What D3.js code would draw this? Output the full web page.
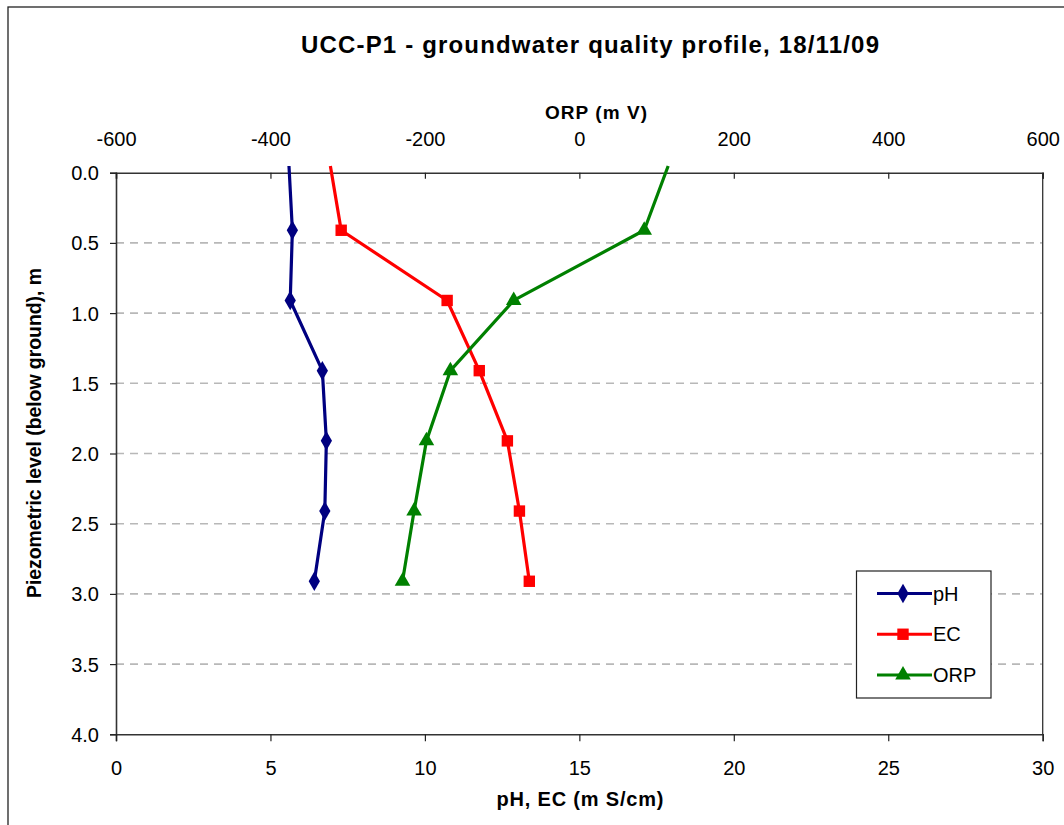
<!DOCTYPE html>
<html>
<head>
<meta charset="utf-8">
<script src="https://cdn.jsdelivr.net/npm/d3@7"></script>
<style>
  html, body { margin: 0; padding: 0; background: #fff; }
  svg { display: block; font-family: Arial, "Liberation Sans", sans-serif; }
</style>
</head>
<body>
<svg id="chart" width="1064" height="825"></svg>
<script>
// ---- data (depth in m below ground; first row is the top of the profile, above the axis start) ----
const depths = [-0.048, 0.41, 0.91, 1.41, 1.91, 2.41, 2.91];
const pHValues = [5.60, 5.71, 5.64, 6.68, 6.81, 6.76, 6.42];
const ecValues = [6.94, 7.29, 10.72, 11.76, 12.67, 13.06, 13.38];
const orpValues = [115, 84, -85, -167, -198, -214, -229];

const bottomTicks = [0, 5, 10, 15, 20, 25, 30];
const topTicks = [-600, -400, -200, 0, 200, 400, 600];
const depthTicks = [0, 0.5, 1.0, 1.5, 2.0, 2.5, 3.0, 3.5, 4.0];
const seriesNames = ["pH", "EC", "ORP"];

const titleText = "UCC-P1 - groundwater quality profile, 18/11/09";
const topAxisTitle = "ORP (m V)";
const bottomAxisTitle = "pH, EC (m S/cm)";
const leftAxisTitle = "Piezometric level (below ground), m";

// ---- layout ----
const svg = d3.select("#chart");
const L = 116, T = 172.7, R = 1042.7, B = 734.3;

const x = d3.scaleLinear().domain([0, 30]).range([L, R]);
const xTop = d3.scaleLinear().domain([-600, 600]).range([L, R]);
const y = d3.scaleLinear().domain([0, 4]).range([T, B]);

// outer chart border
svg.append("rect").attr("x", 8).attr("y", 7).attr("width", 1070).attr("height", 830)
  .attr("fill", "none").attr("stroke", "#222").attr("stroke-width", 1.3);

// gridlines
svg.append("g").selectAll("line").data(depthTicks.filter(d => d > 0 && d < 4)).join("line")
  .attr("x1", L).attr("x2", R).attr("y1", d => y(d)).attr("y2", d => y(d))
  .attr("stroke", "#b8b8b8").attr("stroke-width", 1.6).attr("stroke-dasharray", "8,6");

// plot border (right)
svg.append("line").attr("x1", R).attr("x2", R).attr("y1", T).attr("y2", B)
  .attr("stroke", "#333").attr("stroke-width", 1.3);

// axes
const fmtDepth = d3.format(".1f");
const fmtInt = d => String(d);
const gLeft = svg.append("g").attr("transform", `translate(${L},0)`)
  .call(d3.axisLeft(y).tickValues(depthTicks).tickFormat(fmtDepth).tickSize(6).tickPadding(11));
const gBottom = svg.append("g").attr("transform", `translate(0,${B})`)
  .call(d3.axisBottom(x).tickValues(bottomTicks).tickFormat(fmtInt).tickSize(7).tickPadding(20));
const gTop = svg.append("g").attr("transform", `translate(0,${T})`)
  .call(d3.axisTop(xTop).tickValues(topTicks).tickFormat(fmtInt).tickSize(-6).tickPadding(27));

[gLeft, gBottom, gTop].forEach(g => {
  g.select(".domain").attr("stroke", "#333").attr("stroke-width", 1.6);
  g.selectAll(".tick line").attr("stroke", "#222").attr("stroke-width", 1.2);
  g.selectAll(".tick text").attr("fill", "#000").style("font-size", "20px")
    .style("font-family", "Arial, 'Liberation Sans', sans-serif");
});
gTop.selectAll(".tick text").attr("dy", "0em");
gLeft.selectAll(".tick text").attr("dy", "0.35em");

// titles
svg.append("text").attr("x", 590).attr("y", 53).attr("text-anchor", "middle")
  .attr("textLength", 578).attr("lengthAdjust", "spacing")
  .style("font-size", "24px").style("font-weight", "bold").text(titleText);
svg.append("text").attr("x", 596).attr("y", 119).attr("text-anchor", "middle")
  .attr("textLength", 102).attr("lengthAdjust", "spacing")
  .style("font-size", "19px").style("font-weight", "bold").text(topAxisTitle);
svg.append("text").attr("x", 580).attr("y", 806).attr("text-anchor", "middle")
  .attr("textLength", 167).attr("lengthAdjust", "spacing")
  .style("font-size", "20px").style("font-weight", "bold").text(bottomAxisTitle);
svg.append("text").attr("transform", "translate(41,433) rotate(-90)").attr("text-anchor", "middle")
  .attr("textLength", 330).attr("lengthAdjust", "spacing")
  .style("font-size", "19.5px").style("font-weight", "bold").text(leftAxisTitle);

// series
const colors = ["#000080", "#ff0000", "#008000"];
const rows = depths.map((d, i) => ({ depth: d, pH: pHValues[i], EC: ecValues[i], ORP: orpValues[i] }));
const series = [
  { name: "pH", xs: x, key: "pH", color: colors[0], sym: d3.symbolDiamond, size: 110 },
  { name: "EC", xs: x, key: "EC", color: colors[1], sym: d3.symbolSquare, size: 130 },
  { name: "ORP", xs: xTop, key: "ORP", color: colors[2], sym: d3.symbolTriangle, size: 105 }
];

series.forEach(s => {
  const line = d3.line().x(d => s.xs(d[s.key])).y(d => y(d.depth));
  svg.append("path").datum(rows).attr("d", line).attr("fill", "none")
    .attr("stroke", s.color).attr("stroke-width", 3.2).attr("stroke-linejoin", "round");
});
series.forEach(s => {
  svg.append("g").selectAll("path").data(rows.filter(d => d.depth >= 0)).join("path")
    .attr("d", d3.symbol().type(s.sym).size(s.size))
    .attr("transform", d => `translate(${s.xs(d[s.key])},${y(d.depth)})`)
    .attr("fill", s.color);
});

// legend
const lg = svg.append("g");
lg.append("rect").attr("x", 856.5).attr("y", 571).attr("width", 134.5).attr("height", 127)
  .attr("fill", "#fff").attr("stroke", "#222").attr("stroke-width", 1.2);
const legendY = d3.scalePoint().domain(seriesNames).range([593.5, 675]);
series.forEach(s => {
  const yy = legendY(s.name);
  lg.append("line").attr("x1", 877).attr("x2", 932).attr("y1", yy).attr("y2", yy)
    .attr("stroke", s.color).attr("stroke-width", 3.2);
  lg.append("path").attr("d", d3.symbol().type(s.sym).size(s.size))
    .attr("transform", `translate(903,${yy})`).attr("fill", s.color);
  lg.append("text").attr("x", 933).attr("y", yy).attr("dy", "0.36em")
    .style("font-size", "20px").text(s.name);
});
</script>
</body>
</html>
